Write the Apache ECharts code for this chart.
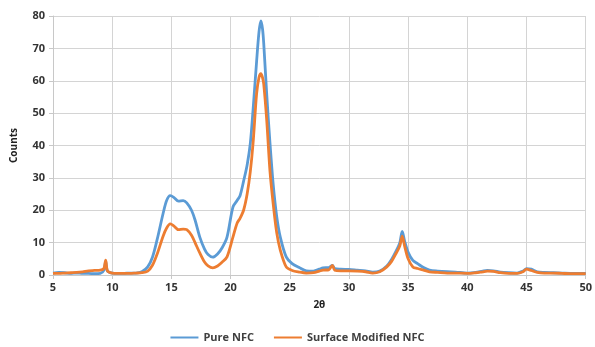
<!DOCTYPE html>
<html><head><meta charset="utf-8">
<script src="https://cdn.jsdelivr.net/npm/echarts@6/dist/echarts.min.js"></script>
<style>html,body{margin:0;padding:0;background:#fff}#c{width:595px;height:347px}</style>
</head><body><div id="c"></div>
<script>
const twoTheta = [5,5.5,6,6.5,7,7.5,8,8.5,9,9.3,9.45,9.6,10,10.5,11,11.5,12,12.5,13,13.4,13.8,14.3,14.6,14.9,15.2,15.6,16,16.3,16.7,17,17.4,17.8,18.1,18.5,18.9,19.3,19.7,20.2,20.55,20.8,21.1,21.4,21.67,21.9,22.2,22.4,22.56,22.7,22.8,23.05,23.33,23.6,23.9,24.2,24.7,25.2,25.8,26.4,27,27.5,27.8,28.3,28.6,28.8,29.3,30,30.7,31.4,32,32.6,33.2,33.6,34,34.3,34.5,34.7,35,35.4,35.8,36.3,36.8,37.5,38.3,39,40,40.7,41.3,41.7,42.2,42.8,43.5,44.2,44.7,45,45.4,45.9,46.5,47.3,48,49,50];
const pureNFC = [0.6,0.8,0.7,0.5,0.6,0.5,0.5,0.4,0.5,1.5,4.2,1.2,0.6,0.5,0.5,0.6,0.6,1.0,2.5,5.5,11,19,23,24.5,24,22.8,23,22.3,20,17,11.7,8,6.3,5.5,6.5,8.5,11.7,21,23,24.5,29,34,40.7,51,66,75,78.5,76,71.6,56,40.7,28,18,11.7,5.6,3.5,2.3,1.3,1.2,1.8,2.2,2.3,3.0,2.0,1.8,1.7,1.5,1.3,0.9,1.2,2.8,4.8,7.5,10,13.5,10.5,7,4.5,3.5,2.3,1.5,1.2,1.0,0.9,0.6,0.8,1.2,1.4,1.3,0.9,0.7,0.6,1.2,2.0,1.8,1.0,0.8,0.7,0.6,0.5,0.5];
const modifiedNFC = [0.5,0.5,0.6,0.7,0.8,1.0,1.3,1.4,1.5,2,4.6,1.3,0.6,0.5,0.5,0.5,0.6,0.7,1.2,3,6.5,12,14.5,15.8,15.2,14,14.2,14,12.3,10,6.8,4,2.8,2.2,2.8,4,5.6,11.7,16,17.5,20,25,32,40.7,56,61,62.2,61,59,48,32,22,13,7.7,2.5,1.4,0.9,0.6,0.7,1.2,1.5,1.6,3.0,1.5,1.3,1.3,1.2,1.0,0.6,1.0,2.5,4.2,6.8,9,12,9,5,2.5,2.0,1.5,1.0,0.8,0.6,0.6,0.5,0.7,1.0,1.2,1.1,0.7,0.5,0.5,1.0,1.8,1.4,0.8,0.6,0.6,0.5,0.4,0.4];
const seriesNames = ['Pure NFC','Surface Modified NFC'];

const font = '"Open Sans", "Liberation Sans", sans-serif';
const chart = echarts.init(document.getElementById('c'), null, {renderer:'canvas'});
const zip = (ys) => twoTheta.map((x,i)=>[x, ys[i]]);
chart.setOption({
  animation:false,
  grid:{left:53,right:9,top:16,bottom:72,containLabel:false},
  legend:{
    bottom:-1, left:'center', icon:'rect', itemWidth:28, itemHeight:2, itemGap:20,
    textStyle:{fontFamily:font,fontSize:11,fontWeight:'bold',color:'#404040'},
    data:seriesNames
  },
  xAxis:{
    type:'value', min:5, max:50, interval:5,
    name:'2θ', nameLocation:'middle', nameGap:25,
    nameTextStyle:{fontFamily:font,fontSize:10,fontWeight:'bold',color:'#222'},
    axisLine:{show:true,onZero:false,lineStyle:{color:'#c8c8c8'}},
    axisTick:{show:true,length:4,lineStyle:{color:'#c8c8c8'}},
    axisLabel:{fontFamily:font,fontSize:11,fontWeight:'bold',color:'#333',margin:7},
    splitLine:{show:true,lineStyle:{color:'#d4d4d4',width:1}}
  },
  yAxis:{
    type:'value', min:0, max:80, interval:10,
    name:'Counts', nameLocation:'middle', nameGap:34, nameRotate:90,
    nameTextStyle:{fontFamily:font,fontSize:10,fontWeight:'bold',color:'#222'},
    axisLine:{show:true,lineStyle:{color:'#c8c8c8'}},
    axisTick:{show:true,length:4,lineStyle:{color:'#c8c8c8'}},
    axisLabel:{fontFamily:font,fontSize:11,fontWeight:'bold',color:'#333',margin:8},
    splitLine:{show:true,lineStyle:{color:'#d4d4d4',width:1}}
  },
  series:[
    {name:seriesNames[0],type:'line',data:zip(pureNFC),showSymbol:false,smooth:0.3,
     lineStyle:{color:'#5B9BD5',width:2.8},itemStyle:{color:'#5B9BD5'}},
    {name:seriesNames[1],type:'line',data:zip(modifiedNFC),showSymbol:false,smooth:0.3,
     lineStyle:{color:'#ED7D31',width:2.8},itemStyle:{color:'#ED7D31'}}
  ]
});
</script></body></html>
